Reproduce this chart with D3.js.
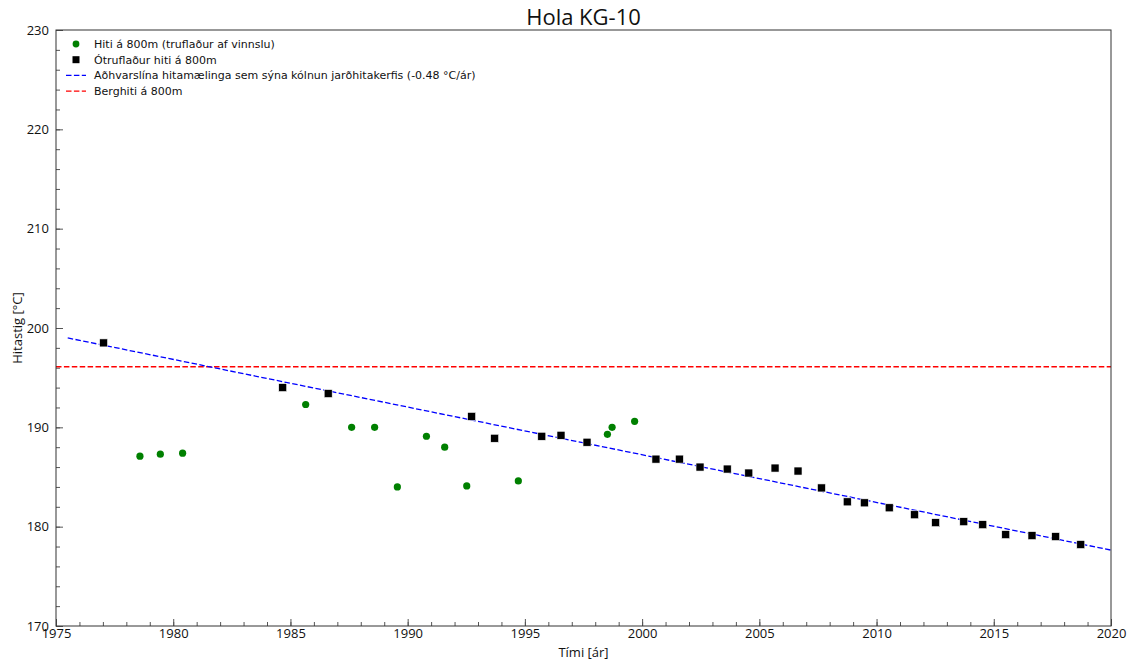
<!DOCTYPE html>
<html>
<head>
<meta charset="utf-8">
<script src="https://cdn.jsdelivr.net/npm/d3@7"></script>
<style>
  body { margin: 0; background: #fff; }
  svg { display: block; }
</style>
</head>
<body>
<svg width="1133" height="664"></svg>
<script>
// disturbed temperature at 800m (green)
var disturbedYears = [1978.58, 1979.45, 1980.40, 1985.65, 1987.61, 1988.59, 1989.56, 1990.80,
  1991.58, 1992.52, 1994.72, 1998.52, 1998.72, 1999.68];
var disturbedTemps = [187.1, 187.3, 187.4, 192.3, 190.0, 190.0, 184.0, 189.1,
  188.0, 184.1, 184.6, 189.3, 190.0, 190.6];

// undisturbed temperature at 800m (black)
var undisturbedYears = [1977.03, 1984.67, 1986.61, 1992.73, 1993.71, 1995.72, 1996.54, 1997.65,
  2000.59, 2001.59, 2002.47, 2003.63, 2004.55, 2005.67, 2006.65, 2007.65, 2008.75, 2009.48,
  2010.54, 2011.62, 2012.52, 2013.72, 2014.53, 2015.51, 2016.63, 2017.64, 2018.71];
var undisturbedTemps = [198.5, 194.0, 193.4, 191.1, 188.9, 189.1, 189.2, 188.5,
  186.8, 186.8, 186.0, 185.8, 185.4, 185.9, 185.6, 183.9, 182.5, 182.4,
  181.9, 181.2, 180.4, 180.5, 180.2, 179.2, 179.1, 179.0, 178.2];

// regression line and rock temperature
var trendYears = [1975.5, 2020];
var trendStart = 199.0;
var trendSlope = -0.48;
var rockTemp = 196.1;

var legendLabels = [
  "Hiti á 800m (truflaður af vinnslu)",
  "Ótruflaður hiti á 800m",
  "Aðhvarslína hitamælinga sem sýna kólnun jarðhitakerfis (-0.48 °C/ár)",
  "Berghiti á 800m"
];

var svg = d3.select("svg");
var margin = { left: 56, right: 22, top: 30, bottom: 38 };
var width = 1133 - margin.left - margin.right;
var height = 664 - margin.top - margin.bottom;

var x = d3.scaleLinear().domain([1975, 2020]).range([0, width]);
var y = d3.scaleLinear().domain([170, 230]).range([height, 0]);

var g = svg.append("g").attr("transform", "translate(" + margin.left + "," + margin.top + ")");

// axes with inward ticks
var tickFont = "'Open Sans', sans-serif";
var xMinor = g.append("g").attr("transform", "translate(0," + height + ")")
  .call(d3.axisBottom(x).ticks(45).tickSize(-4).tickFormat(""));
var xMajor = g.append("g").attr("transform", "translate(0," + height + ")")
  .call(d3.axisBottom(x).tickValues(d3.range(1975, 2021, 5)).tickSize(-7).tickPadding(3).tickFormat(d3.format("d")));
var yMinor = g.append("g")
  .call(d3.axisLeft(y).tickValues(d3.range(170, 231, 2)).tickSize(-4).tickFormat(""));
var yMajor = g.append("g")
  .call(d3.axisLeft(y).tickValues(d3.range(170, 231, 10)).tickSize(-7).tickPadding(7));

[xMinor, xMajor, yMinor, yMajor].forEach(function (a) {
  a.select(".domain").remove();
  a.selectAll(".tick line").attr("stroke", "#555");
  a.selectAll(".tick text").attr("font-family", tickFont).attr("font-size", 13).attr("fill", "#111");
});

// clip for lines
g.append("clipPath").attr("id", "clip").append("rect").attr("width", width).attr("height", height);
var lines = g.append("g").attr("clip-path", "url(#clip)");

lines.append("line")
  .attr("x1", x(1975)).attr("x2", x(2020))
  .attr("y1", y(rockTemp)).attr("y2", y(rockTemp))
  .attr("stroke", "#ff0000").attr("stroke-width", 1.3).attr("stroke-dasharray", "5.5,2.4");

var trend = trendYears.map(function (t) { return [t, trendStart + trendSlope * (t - trendYears[0])]; });
lines.append("path")
  .attr("d", d3.line().x(function (d) { return x(d[0]); }).y(function (d) { return y(d[1]); })(trend))
  .attr("fill", "none").attr("stroke", "#0000ff").attr("stroke-width", 1.3).attr("stroke-dasharray", "5.5,2.4");

// points
g.append("g").selectAll("circle").data(disturbedYears).enter().append("circle")
  .attr("cx", function (d) { return x(d); })
  .attr("cy", function (d, i) { return y(disturbedTemps[i]); })
  .attr("r", 3.6).attr("fill", "#008000");

g.append("g").selectAll("rect").data(undisturbedYears).enter().append("rect")
  .attr("x", function (d) { return x(d) - 4; })
  .attr("y", function (d, i) { return y(undisturbedTemps[i]) - 4; })
  .attr("width", 8).attr("height", 8)
  .attr("fill", "#000").attr("stroke", "#fff").attr("stroke-width", 0.6);

// frame
g.append("rect").attr("width", width).attr("height", height)
  .attr("fill", "none").attr("stroke", "#333").attr("stroke-width", 1);

// legend
var legend = g.append("g").attr("transform", "translate(10,14)");
legendLabels.forEach(function (label, i) {
  var row = legend.append("g").attr("transform", "translate(0," + (i * 15.7) + ")");
  if (i === 0) {
    row.append("circle").attr("cx", 10).attr("cy", 0).attr("r", 3.4).attr("fill", "#008000");
  } else if (i === 1) {
    row.append("rect").attr("x", 6.5).attr("y", -3.5).attr("width", 7).attr("height", 7).attr("fill", "#000");
  } else {
    row.append("line").attr("x1", 0).attr("x2", 20).attr("y1", 0).attr("y2", 0)
      .attr("stroke", i === 2 ? "#0000ff" : "#ff0000").attr("stroke-width", 1.3)
      .attr("stroke-dasharray", "5.5,2.4");
  }
  row.append("text").attr("x", 28).attr("y", 4)
    .attr("font-family", "'DejaVu Sans', sans-serif").attr("font-size", 11).attr("fill", "#111")
    .text(label);
});

// titles
svg.append("text").attr("x", margin.left + width / 2).attr("y", 25)
  .attr("text-anchor", "middle").attr("font-family", tickFont).attr("font-size", 22).attr("fill", "#111")
  .text("Hola KG-10");
svg.append("text").attr("x", margin.left + width / 2).attr("y", 657)
  .attr("text-anchor", "middle").attr("font-family", tickFont).attr("font-size", 13).attr("fill", "#111")
  .text("Tími [ár]");
svg.append("text").attr("transform", "translate(22," + (margin.top + height / 2) + ") rotate(-90)")
  .attr("text-anchor", "middle").attr("font-family", tickFont).attr("font-size", 13).attr("fill", "#111")
  .text("Hitastig [°C]");
</script>
</body>
</html>
